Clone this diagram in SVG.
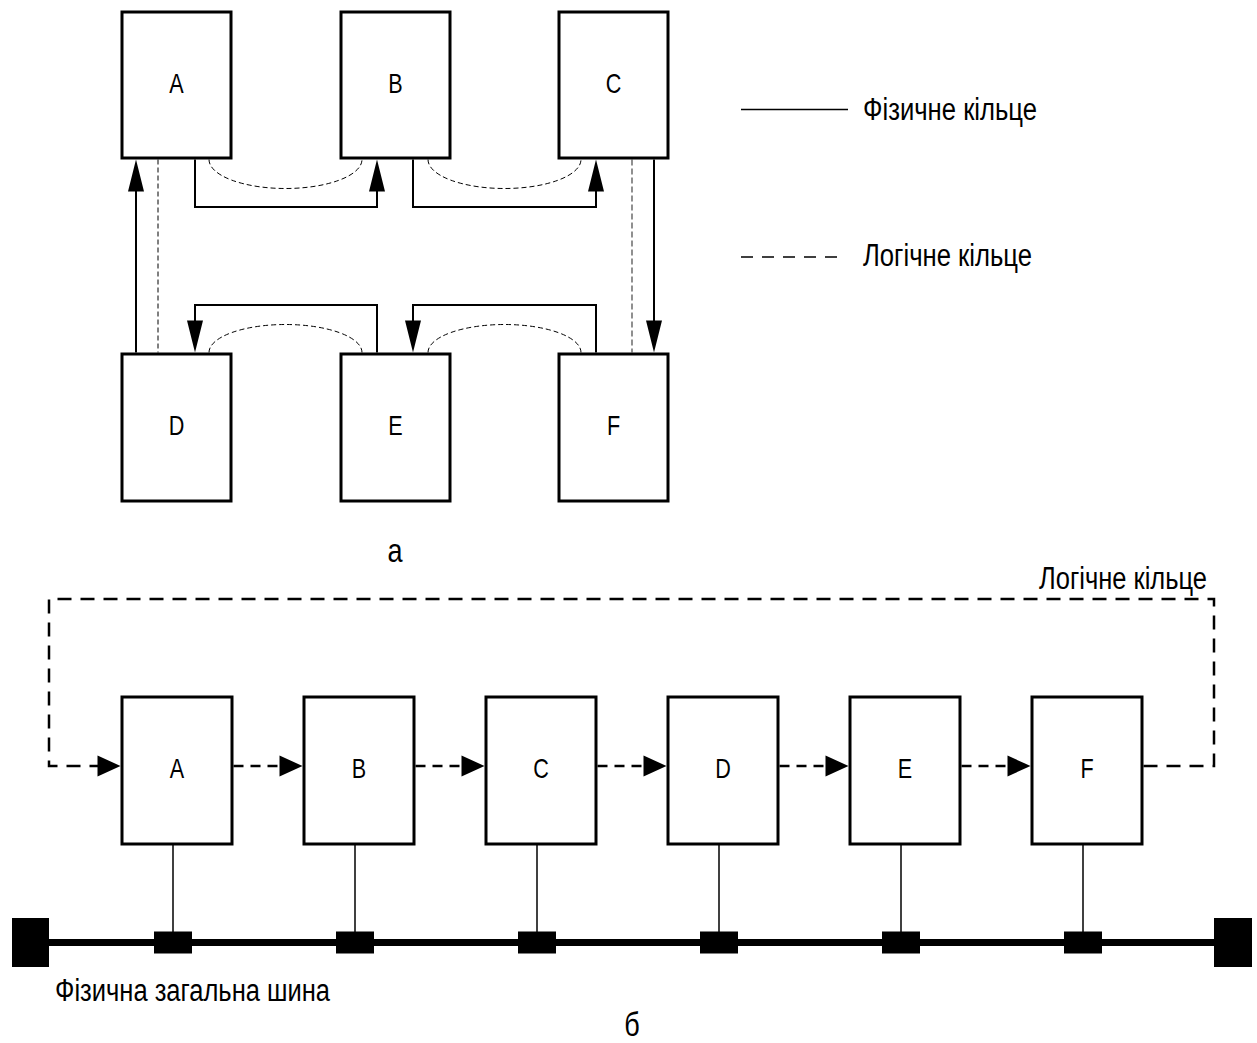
<svg xmlns="http://www.w3.org/2000/svg" width="1257" height="1043" viewBox="0 0 1257 1043">
  <style>
    .box { fill: #fff; stroke: #000; stroke-width: 3; }
    .lbl { font-family: "Liberation Sans", Arial, sans-serif; font-size: 27px; text-anchor: middle; fill: #000;
           transform-box: fill-box; transform-origin: center; transform: scaleX(0.8); }
    .txt { font-family: "Liberation Sans", Arial, sans-serif; font-size: 31px; fill: #000; }
    .cap { font-family: "Liberation Sans", Arial, sans-serif; font-size: 33px; text-anchor: middle; fill: #000;
           transform-box: fill-box; transform-origin: center; transform: scaleX(0.82); }
    .phys { fill: none; stroke: #000; stroke-width: 2; }
    .logic-thin { fill: none; stroke: #000; stroke-width: 1; stroke-dasharray: 5 3; }
    .logic-grey { fill: none; stroke: #555; stroke-width: 1.3; stroke-dasharray: 6 3; }
    .logic { fill: none; stroke: #000; stroke-width: 2.5; stroke-dasharray: 14 9; }
    .logic-short { fill: none; stroke: #000; stroke-width: 2.5; stroke-dasharray: 10 7; }
    .tap { stroke: #000; stroke-width: 1.5; }
  </style>
  <defs>
    <marker id="arrS" markerUnits="userSpaceOnUse" markerWidth="34" markerHeight="18" refX="2" refY="0" orient="auto" overflow="visible">
      <path d="M0,-8 L32,0 L0,8 Z" fill="#000"/>
    </marker>
    <marker id="arrL" markerUnits="userSpaceOnUse" markerWidth="25" markerHeight="22" refX="2" refY="0" orient="auto" overflow="visible">
      <path d="M0,-10.5 L23,0 L0,10.5 Z" fill="#000"/>
    </marker>
  </defs>

  <rect width="1257" height="1043" fill="#fff"/>

  <!-- (a) physical ring with logical ring -->
  <g id="ring-connectors">
    <!-- logical ring (thin dashed) -->
    <path class="logic-thin" d="M158,159.5 V352.5"/>
    <path class="logic-grey" d="M632,159.5 V352.5"/>
    <path class="logic-thin" d="M209,159.5 A76.5,29 0 0 0 362,159.5"/>
    <path class="logic-thin" d="M428,159.5 A76.5,29 0 0 0 581,159.5"/>
    <path class="logic-thin" d="M209,352.5 A76.5,28 0 0 1 362,352.5"/>
    <path class="logic-thin" d="M428,352.5 A76.5,28 0 0 1 581,352.5"/>
    <!-- physical ring (solid with arrows) -->
    <path class="phys" d="M195,159.5 V207 H377 V189.5" marker-end="url(#arrS)"/>
    <path class="phys" d="M413,159.5 V207 H596 V189.5" marker-end="url(#arrS)"/>
    <path class="phys" d="M654,159.5 V322.5" marker-end="url(#arrS)"/>
    <path class="phys" d="M596,352.5 V305 H413 V322.5" marker-end="url(#arrS)"/>
    <path class="phys" d="M377,352.5 V305 H195 V322.5" marker-end="url(#arrS)"/>
    <path class="phys" d="M136,352.5 V189.5" marker-end="url(#arrS)"/>
  </g>

  <g id="ring-A"><rect class="box" x="122" y="12" width="109" height="146"/><text class="lbl" x="176.5" y="93.5">A</text></g>
  <g id="ring-B"><rect class="box" x="341" y="12" width="109" height="146"/><text class="lbl" x="395.5" y="93.5">B</text></g>
  <g id="ring-C"><rect class="box" x="559" y="12" width="109" height="146"/><text class="lbl" x="613.5" y="93.5">C</text></g>
  <g id="ring-D"><rect class="box" x="122" y="354" width="109" height="147"/><text class="lbl" x="176.5" y="435.5">D</text></g>
  <g id="ring-E"><rect class="box" x="341" y="354" width="109" height="147"/><text class="lbl" x="395.5" y="435.5">E</text></g>
  <g id="ring-F"><rect class="box" x="559" y="354" width="109" height="147"/><text class="lbl" x="613.5" y="435.5">F</text></g>

  <!-- legend -->
  <g id="legend">
    <line x1="741" y1="109.5" x2="848" y2="109.5" stroke="#000" stroke-width="1.6"/>
    <text class="txt" x="863" y="120" textLength="174" lengthAdjust="spacingAndGlyphs">Фізичне кільце</text>
    <line x1="741" y1="257" x2="837" y2="257" stroke="#000" stroke-width="1.6" stroke-dasharray="12 9"/>
    <text class="txt" x="863" y="266" textLength="169" lengthAdjust="spacingAndGlyphs">Логічне кільце</text>
  </g>

  <text class="cap" x="395" y="562">а</text>

  <!-- (b) bus topology with logical ring -->
  <g id="bus-connectors">
    <path class="logic" d="M1143.5,766 H1214 V599 H49 V766 H99.5" marker-end="url(#arrL)"/>
    <path class="logic-short" d="M233.5,766 H281.5" marker-end="url(#arrL)"/>
    <path class="logic-short" d="M415.5,766 H463.5" marker-end="url(#arrL)"/>
    <path class="logic-short" d="M597.5,766 H645.5" marker-end="url(#arrL)"/>
    <path class="logic-short" d="M779.5,766 H827.5" marker-end="url(#arrL)"/>
    <path class="logic-short" d="M961.5,766 H1009.5" marker-end="url(#arrL)"/>
    <!-- drops to the bus -->
    <line class="tap" x1="173" y1="845" x2="173" y2="932"/>
    <line class="tap" x1="355" y1="845" x2="355" y2="932"/>
    <line class="tap" x1="537" y1="845" x2="537" y2="932"/>
    <line class="tap" x1="719" y1="845" x2="719" y2="932"/>
    <line class="tap" x1="901" y1="845" x2="901" y2="932"/>
    <line class="tap" x1="1083" y1="845" x2="1083" y2="932"/>
  </g>

  <text class="txt" x="1039" y="589" textLength="168" lengthAdjust="spacingAndGlyphs">Логічне кільце</text>

  <g id="bus-A"><rect class="box" x="122" y="697" width="110" height="147"/><text class="lbl" x="177" y="778.5">A</text></g>
  <g id="bus-B"><rect class="box" x="304" y="697" width="110" height="147"/><text class="lbl" x="359" y="778.5">B</text></g>
  <g id="bus-C"><rect class="box" x="486" y="697" width="110" height="147"/><text class="lbl" x="541" y="778.5">C</text></g>
  <g id="bus-D"><rect class="box" x="668" y="697" width="110" height="147"/><text class="lbl" x="723" y="778.5">D</text></g>
  <g id="bus-E"><rect class="box" x="850" y="697" width="110" height="147"/><text class="lbl" x="905" y="778.5">E</text></g>
  <g id="bus-F"><rect class="box" x="1032" y="697" width="110" height="147"/><text class="lbl" x="1087" y="778.5">F</text></g>

  <!-- shared bus -->
  <g id="bus">
    <line x1="49" y1="942.5" x2="1214" y2="942.5" stroke="#000" stroke-width="7"/>
    <rect x="12" y="918" width="37" height="49" fill="#000"/>
    <rect x="1214" y="918" width="38" height="49" fill="#000"/>
    <rect x="154" y="931.5" width="38" height="22" fill="#000"/>
    <rect x="336" y="931.5" width="38" height="22" fill="#000"/>
    <rect x="518" y="931.5" width="38" height="22" fill="#000"/>
    <rect x="700" y="931.5" width="38" height="22" fill="#000"/>
    <rect x="882" y="931.5" width="38" height="22" fill="#000"/>
    <rect x="1064" y="931.5" width="38" height="22" fill="#000"/>
  </g>
  <text class="txt" x="55" y="1001" textLength="275" lengthAdjust="spacingAndGlyphs">Фізична загальна шина</text>

  <text class="cap" x="632" y="1036" font-size="31">б</text>
</svg>
